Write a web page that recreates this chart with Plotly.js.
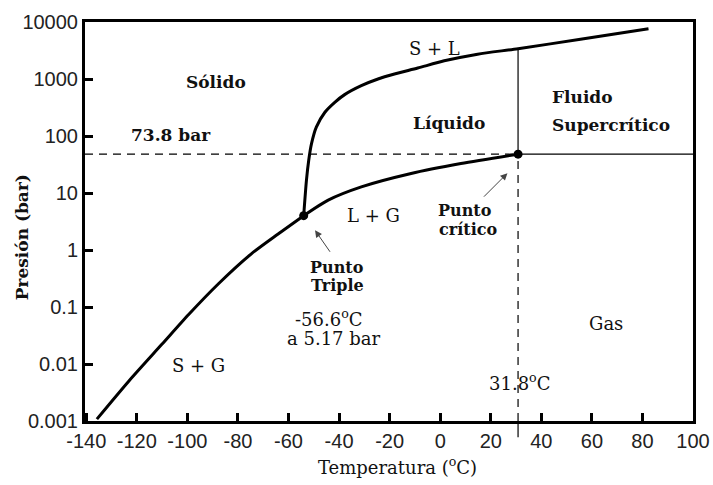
<!DOCTYPE html>
<html>
<head>
<meta charset="utf-8">
<script src="https://cdn.plot.ly/plotly-3.0.1.min.js"></script>
<style>
html,body{margin:0;padding:0;background:#fff;}
#chart{width:713px;height:485px;}
</style>
</head>
<body>
<div id="chart"></div>
<script>
// ---- Data ----
// Sublimation curve (S + G boundary)
const subT = [-135.8, -123.2, -110.1, -99.5, -87.7, -74.7, -64.1, -54];
const subP = [0.00108, 0.0050, 0.0221, 0.0738, 0.256, 0.857, 1.91, 4.0];
// Vaporisation curve (L + G boundary)
const vapT = [-54, -44.3, -31.2, -11.5, 8.2, 30.8];
const vapP = [4.0, 7.5, 12.8, 22, 32.8, 48];
// Melting curve (S + L boundary)
const meltT = [-54, -52.9, -52.0, -50.9, -49.0, -45.6, -41.7, -37.8, -31.2, -24.6, -18.1, -8.9, 1.6, 14.8, 30.8, 55.5, 82.4];
const meltP = [4.0, 16.8, 37.5, 73.3, 143, 261, 390, 532, 764, 1000, 1222, 1556, 2084, 2729, 3400, 4990, 7640];
// Special points
const tripleT = -54, tripleP = 4.0;
const critT = 30.8, critP = 48;
// Axis ticks
const xTickVals = [-140, -120, -100, -80, -60, -40, -20, 0, 20, 40, 60, 80, 100];
const xTickText = ['-140', '-120', '-100', '-80', '-60', '-40', '-20', '0', '20', '40', '60', '80', '100'];
const yTickVals = [0.001, 0.01, 0.1, 1, 10, 100, 1000, 10000];
const yTickText = ['0.001', '0.01', '0.1', '1', '10', '100', '1000', '10000'];

const xMin = -140.5, xMax = 100;
const yMin = 0.001;
const meltAtCrit = meltP[meltT.indexOf(critT)];

const thick = {color: '#000', width: 3, shape: 'spline', smoothing: 0.7};
const thin = {color: '#000', width: 1.2};
const dashed = {color: '#000', width: 1.2, dash: '8px,6px'};

const traces = [
  {x: subT, y: subP, mode: 'lines', line: thick, hoverinfo: 'skip'},
  {x: vapT, y: vapP, mode: 'lines', line: thick, hoverinfo: 'skip'},
  {x: meltT, y: meltP, mode: 'lines', line: thick, hoverinfo: 'skip'},
  {x: [xMin, critT], y: [critP, critP], mode: 'lines', line: dashed, hoverinfo: 'skip'},
  {x: [critT, xMax], y: [critP, critP], mode: 'lines', line: thin, hoverinfo: 'skip'},
  {x: [critT, critT], y: [critP, meltAtCrit], mode: 'lines', line: thin, hoverinfo: 'skip'},
  {x: [critT, critT], y: [yMin, critP], mode: 'lines', line: dashed, hoverinfo: 'skip'},
  {x: [tripleT, critT], y: [tripleP, critP], mode: 'markers',
   marker: {color: '#000', size: 9}, hoverinfo: 'skip'}
];

const serif = 'DejaVu Serif, Liberation Serif, serif';
function lab(text, x, logp, size, bold, extra) {
  return Object.assign({
    text: text, x: x, y: logp, xref: 'x', yref: 'y',
    showarrow: false, xanchor: 'center', yanchor: 'middle',
    font: {family: serif, size: size, color: '#111', weight: bold ? 'bold' : 'normal'}
  }, extra || {});
}

// label positions (y given as log10 of pressure, as Plotly needs on log axes)
const annotations = [
  lab('Sólido', -88.5, 2.946, 17, true),
  lab('S + L', -2.2, 3.543, 18, false),
  lab('Líquido', 3.3, 2.226, 17, true),
  lab('Fluido', 43.6, 2.683, 17, true, {xanchor: 'left'}),
  lab('Supercrítico', 43.6, 2.191, 17, true, {xanchor: 'left'}),
  lab('73.8 bar', -106.5, 2.015, 17, true),
  lab('Punto', -40.8, -0.304, 16, true),
  lab('Triple', -40.8, -0.620, 16, true),
  lab('-56.6<sup>o</sup>C', -44.0, -1.199, 18, false),
  lab('a 5.17 bar', -42.0, -1.551, 18, false),
  lab('L + G', -26.2, 0.610, 18, false),
  lab('Punto', 10.0, 0.698, 16, true),
  lab('crítico', 10.8, 0.364, 16, true),
  lab('S + G', -95.6, -2.025, 18, false),
  lab('Gas', 65.5, -1.287, 18, false),
  lab('31.8<sup>o</sup>C', 31.3, -2.324, 18, false),
  // arrows
  {text: '', x: -49.5, y: 0.346, xref: 'x', yref: 'y', showarrow: true,
   ax: 16, ay: 23, arrowhead: 2, arrowsize: 1.4, arrowwidth: 1, arrowcolor: '#444'},
  {text: '', x: 26.6, y: 1.348, xref: 'x', yref: 'y', showarrow: true,
   ax: -25, ay: 25, arrowhead: 2, arrowsize: 1.4, arrowwidth: 1, arrowcolor: '#444'},
  // axis titles
  {text: 'Presión (bar)', x: -0.1036, y: 0.4605, xref: 'paper', yref: 'paper',
   textangle: -90, showarrow: false, xanchor: 'center', yanchor: 'middle',
   font: {family: serif, size: 17, color: '#111', weight: 'bold'}},
  {text: 'Temperatura (<sup>o</sup>C)', x: 0.5148, y: -0.114, xref: 'paper', yref: 'paper',
   showarrow: false, xanchor: 'center', yanchor: 'middle',
   font: {family: serif, size: 18, color: '#111'}}
];

const layout = {
  width: 713, height: 485,
  margin: {l: 85, r: 20, t: 22, b: 64},
  paper_bgcolor: '#fff', plot_bgcolor: '#fff',
  showlegend: false,
  xaxis: {
    range: [xMin, xMax], tickmode: 'array', tickvals: xTickVals, ticktext: xTickText,
    ticks: 'inside', ticklen: 8, tickwidth: 3, tickcolor: '#000',
    showgrid: false, zeroline: false,
    showline: true, linecolor: '#000', linewidth: 3, mirror: true,
    tickfont: {family: 'Liberation Sans, Arial, sans-serif', size: 20, color: '#222'}
  },
  yaxis: {
    type: 'log', range: [-3, 4], tickmode: 'array', tickvals: yTickVals, ticktext: yTickText,
    ticks: 'inside', ticklen: 8, tickwidth: 3, tickcolor: '#000',
    showgrid: false, zeroline: false,
    showline: true, linecolor: '#000', linewidth: 3, mirror: true,
    tickfont: {family: 'Liberation Sans, Arial, sans-serif', size: 20, color: '#222'}
  },
  shapes: [
    {type: 'line', xref: 'x', yref: 'paper', x0: critT, x1: critT, y0: -0.041, y1: 0,
     line: {color: '#000', width: 1.2}}
  ],
  annotations: annotations
};

Plotly.newPlot('chart', traces, layout, {staticPlot: true, displayModeBar: false});
</script>
</body>
</html>
